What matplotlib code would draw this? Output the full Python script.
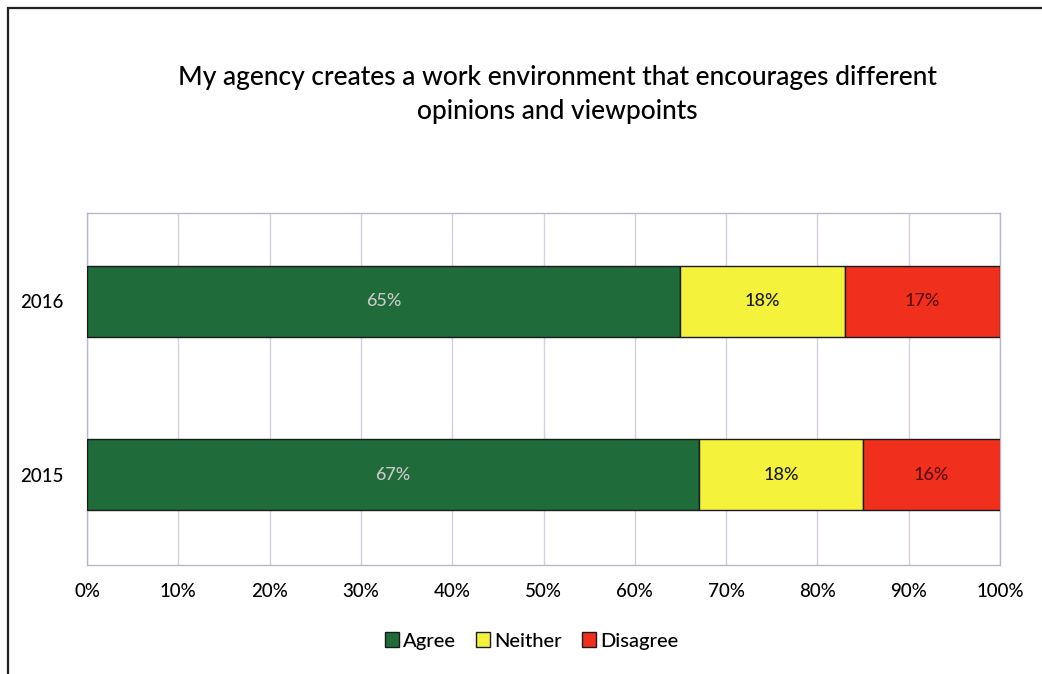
import matplotlib.pyplot as plt
from matplotlib.patches import Rectangle

plt.rcParams['font.family'] = ['Lato', 'DejaVu Sans']

years = ['2015', '2016']
agree = [67, 65]
neither = [18, 18]
disagree = [16, 17]
series_names = ['Agree', 'Neither', 'Disagree']
colors = ['#1f6b3a', '#f5f23c', '#f0301c']
label_colors = ['#c8c8c8', '#1a1a1a', '#5a0a0a']

fig = plt.figure(figsize=(10.42, 6.74), dpi=100)
ax = fig.add_axes([87 / 1042, 1 - 565 / 674, 913 / 1042, 352 / 674])

# outer chart frame, running off the right and bottom edges
fig.patches.append(Rectangle((8 / 1042, -0.05), 1.1, 1 - 8 / 674 + 0.05,
                             transform=fig.transFigure, fill=False,
                             edgecolor='#222222', linewidth=1.6))

y = list(range(len(years)))
left = [0, 0]
for vals, name, c, lc in zip([agree, neither, disagree], series_names, colors, label_colors):
    bars = ax.barh(y, vals, left=left, height=0.41, color=c, edgecolor='#1a1a1a',
                   linewidth=1.0, label=name, zorder=3)
    for b, v, l in zip(bars, vals, left):
        cx = min(l + v / 2, (l + 100) / 2)
        ax.text(cx, b.get_y() + b.get_height() / 2, f'{v}%', ha='center', va='center',
                color=lc, fontsize=13, fontweight='medium', zorder=4)
    left = [a + b for a, b in zip(left, vals)]

ax.set_xlim(0, 100)
ax.set_ylim(-0.52, 1.51)
ax.set_yticks(y)
ax.set_yticklabels(years, fontsize=13.5, fontweight='medium')
ax.set_xticks(range(0, 101, 10))
ax.set_xticklabels([f'{v}%' for v in range(0, 101, 10)], fontsize=13.5, fontweight='medium')
ax.tick_params(length=0, pad=13)
ax.tick_params(axis='y', pad=17)
ax.grid(axis='x', color='#d8cfe0', linewidth=1.0, zorder=0)
for s in ax.spines.values():
    s.set_color('#b8b8cc')
    s.set_linewidth(1.0)

fig.text(0.535, 1 - 94 / 674,
         'My agency creates a work environment that encourages different\nopinions and viewpoints',
         ha='center', va='center', fontsize=19, linespacing=1.45, fontweight='medium')

fig.legend(loc='center', bbox_to_anchor=(0.51, 1 - 641 / 674), ncol=3, frameon=False,
           prop={'size': 14.5, 'weight': 'medium'}, handlelength=0.7, handleheight=0.7,
           handletextpad=0.2, columnspacing=1.0)

fig.savefig('out.png', dpi=100, facecolor='white')
